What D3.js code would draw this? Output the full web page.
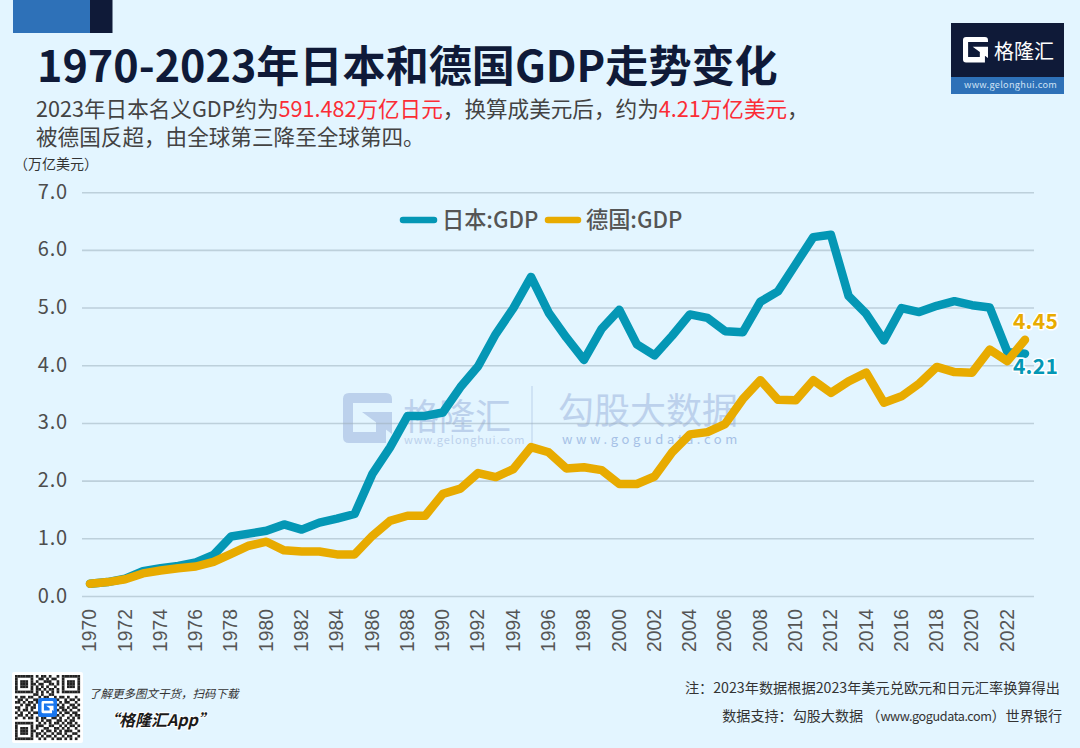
<!DOCTYPE html>
<html><head><meta charset="utf-8">
<script src="https://cdn.jsdelivr.net/npm/d3@7/dist/d3.min.js"></script>
<style>
html,body{margin:0;padding:0;background:#e3f5ff;}
svg{display:block;}
text{font-family:"Noto Sans CJK SC","Noto Sans",sans-serif;}
</style></head><body>
<svg id="c" width="1080" height="748"></svg>
<script>
const years = d3.range(1970, 2024);
const tickYears = d3.range(1970, 2023, 2);
const yTicks = [0,1,2,3,4,5,6,7];
const japan = [0.22,0.25,0.31,0.44,0.49,0.53,0.59,0.72,1.04,1.09,1.14,1.25,1.16,1.28,1.35,1.43,2.12,2.58,3.13,3.13,3.19,3.63,3.99,4.55,5.0,5.54,4.92,4.49,4.10,4.64,4.97,4.37,4.18,4.52,4.89,4.83,4.60,4.58,5.11,5.29,5.76,6.23,6.27,5.21,4.90,4.44,5.00,4.93,5.04,5.12,5.05,5.01,4.24,4.21];
const germany = [0.22,0.25,0.30,0.40,0.45,0.49,0.52,0.60,0.74,0.88,0.95,0.80,0.78,0.78,0.73,0.73,1.05,1.31,1.40,1.40,1.78,1.87,2.14,2.07,2.21,2.59,2.50,2.22,2.24,2.19,1.95,1.95,2.08,2.50,2.81,2.85,2.99,3.42,3.75,3.41,3.40,3.75,3.53,3.73,3.88,3.36,3.47,3.69,3.98,3.89,3.88,4.28,4.08,4.45];
const seriesNames = ["日本:GDP","德国:GDP"];
const seriesColors = ["#0497b5","#e8ab00"];
const titleText = "1970-2023年日本和德国GDP走势变化";
const unitText = "（万亿美元）";
const noteText = "注：2023年数据根据2023年美元兑欧元和日元汇率换算得出";
const gPath = "M349 393H386Q392 393 392 399V403H353V432H376V421H386V443H349Q343 443 343 437V399Q343 393 349 393ZM362 412H392V434Z";

const svg = d3.select("#c");
const x = d3.scaleLinear().domain([1970,2023]).range([90,1025]);
const y = d3.scaleLinear().domain([0,7]).range([596.5,192.7]);

// top decoration
svg.append("rect").attr("x",13).attr("y",0).attr("width",77).attr("height",33).attr("fill","#2e71b8");
svg.append("rect").attr("x",90).attr("y",0).attr("width",22.5).attr("height",33).attr("fill","#0f1a38");

// heading
svg.append("text").attr("x",37).attr("y",82).attr("font-size",43.1).attr("font-weight",700).attr("fill","#0f1a38").text(titleText);
const sub = svg.append("text").attr("x",36).attr("y",117).attr("font-size",21.6).attr("fill","#434343");
[["2023年日本名义GDP约为","#434343"],["591.482万亿日元","#fb2d36"],["，换算成美元后，约为","#434343"],["4.21万亿美元","#fb2d36"],["，","#434343"]]
  .forEach(d=>sub.append("tspan").attr("fill",d[1]).text(d[0]));
svg.append("text").attr("x",36).attr("y",145).attr("font-size",21.6).attr("fill","#434343").text("被德国反超，由全球第三降至全球第四。");
svg.append("text").attr("x",14).attr("y",169).attr("font-size",14).attr("fill","#333").text(unitText);

// logo
const lg = svg.append("g");
lg.append("rect").attr("x",951).attr("y",23).attr("width",113).attr("height",54).attr("fill","#0f1a38");
lg.append("rect").attr("x",951).attr("y",77).attr("width",113).attr("height",17).attr("fill","#2e71b8");
lg.append("path").attr("fill","#fff").attr("transform","translate(963,37) scale(0.51) translate(-343,-393)").attr("d",gPath);
lg.append("text").attr("x",994).attr("y",59).attr("font-size",20).attr("fill","#fff").text("格隆汇");
lg.append("text").attr("x",964).attr("y",88).attr("font-size",9.2).attr("letter-spacing",0.3).attr("fill","#cfe2f5").text("www.gelonghui.com");

// watermark
const wm = svg.append("g");
const wc = "#bcd1ec";
wm.append("path").attr("fill",wc).attr("d",gPath);
wm.append("text").attr("x",403).attr("y",430).attr("font-size",36).attr("fill",wc).text("格隆汇");
wm.append("text").attr("x",404).attr("y",444).attr("font-size",11).attr("letter-spacing",0.95).attr("fill",wc).text("www.gelonghui.com");
wm.append("rect").attr("x",531.5).attr("y",386).attr("width",1).attr("height",66).attr("fill",wc);
wm.append("text").attr("x",558).attr("y",424).attr("font-size",36).attr("fill",wc).text("勾股大数据");
wm.append("text").attr("x",562).attr("y",444).attr("font-size",13).attr("letter-spacing",3.6).attr("fill","#a6c1e6").text("www.gogudata.com");

// grid and axes
svg.append("g").selectAll("line").data(yTicks).join("line")
  .attr("x1",82).attr("x2",1034).attr("y1",d=>y(d)).attr("y2",d=>y(d))
  .attr("stroke","#9fb0bd").attr("stroke-opacity",0.55).attr("stroke-width",1.6);
svg.append("g").selectAll("text").data(yTicks).join("text")
  .attr("x",68).attr("y",d=>y(d)+6).attr("text-anchor","end").attr("font-size",20).attr("letter-spacing",0.8).attr("fill","#4d4d4d")
  .text(d3.format(".1f"));
svg.append("g").selectAll("text").data(tickYears).join("text")
  .attr("transform",d=>`translate(${x(d)+6.3},652) rotate(-90)`)
  .attr("font-size",19.3).attr("fill","#555").style("font-family","'Liberation Sans',sans-serif").text(d=>d);

// lines
const line = d3.line().x((d,i)=>x(years[i])).y(d=>y(d));
[japan,germany].forEach((s,i)=>{
  svg.append("path").attr("d",line(s)).attr("fill","none").attr("stroke",seriesColors[i])
    .attr("stroke-width",8.5).attr("stroke-linejoin","round").attr("stroke-linecap","round");
});

// end labels
[[germany,seriesColors[1],-11],[japan,seriesColors[0],20.5]].forEach(([s,c,dy])=>{
  const v=s[s.length-1];
  svg.append("text").attr("x",1035.5).attr("y",y(v)+dy).attr("text-anchor","middle")
    .attr("font-size",21).attr("font-weight",700).attr("letter-spacing",0.3).attr("fill",c)
    .attr("stroke","#fff").attr("stroke-width",3).attr("paint-order","stroke").attr("stroke-linejoin","round")
    .text(v.toFixed(2));
});

// legend
[[400,437,442],[545,581,586]].forEach((p,i)=>{
  svg.append("line").attr("x1",p[0]+3).attr("x2",p[1]-3).attr("y1",220).attr("y2",220)
    .attr("stroke",seriesColors[i]).attr("stroke-width",6.5).attr("stroke-linecap","round");
  svg.append("text").attr("x",p[2]).attr("y",228).attr("font-size",22.2).attr("font-weight",500).attr("fill","#555").text(seriesNames[i]);
});

// footer
svg.append("text").attr("x",1060).attr("y",693).attr("text-anchor","end").attr("font-size",14.2).attr("fill","#333").text(noteText);
const src = svg.append("text").attr("x",1062).attr("y",721).attr("text-anchor","end").attr("font-size",14.1).attr("fill","#333");
src.append("tspan").text("数据支持：勾股大数据 （");
src.append("tspan").attr("font-size",12.6).attr("letter-spacing",-0.4).text("www.gogudata.com");
src.append("tspan").text("）世界银行");
svg.append("text").attr("x",89).attr("y",698).attr("font-size",11.5).attr("font-style","italic").attr("fill","#333").text("了解更多图文干货，扫码下载");
svg.append("text").attr("x",103).attr("y",726).attr("font-size",16).attr("font-weight",700).attr("font-style","italic").attr("fill","#1a1a1a").attr("stroke","#fff").attr("stroke-width",2).attr("paint-order","stroke").text("“格隆汇App”");

// QR decoration
const qrRows = ["1111111010110100101111111","1000001001101011001000001","1011101010011100101011101","1011101101100110101011101","1011101010101001001011101","1000001011010110101000001","1111111010101010101111111","0000000110100110000000000","1011011001011001011010010","0110100110110101100101101","1101011010010011010110010","0010110100101100101001101","1100101100011010011010110","0101101000100101101101001","1010010110111010010110110","0110101001000101101001011","1001011010110011010010101","0000000010101100110101100","1111111001010101101011010","1000001011100110010101101","1011101010011001101010010","1011101100101101010111001","1011101011010010110100110","1000001010101101001011001","1111111001010010110101010"];
const qr = svg.append("g");
qr.append("rect").attr("x",12).attr("y",672).attr("width",71).attr("height",71).attr("rx",2).attr("fill","#fff");
const qx = d3.scaleBand().domain(d3.range(25)).range([15,80]);
const qy = d3.scaleBand().domain(d3.range(25)).range([675,740]);
qrRows.forEach((r,j)=>r.split("").forEach((b,i)=>{
  if(b==="1") qr.append("rect").attr("x",qx(i)).attr("y",qy(j)).attr("width",qx.bandwidth()+.1).attr("height",qy.bandwidth()+.1).attr("fill","#222");
}));
qr.append("rect").attr("x",38).attr("y",698).attr("width",19).attr("height",19).attr("rx",3).attr("fill","#1976ee");
qr.append("path").attr("fill","#fff").attr("transform","translate(41.5,701) scale(0.245) translate(-343,-393)").attr("d",gPath);
</script>
</body></html>
